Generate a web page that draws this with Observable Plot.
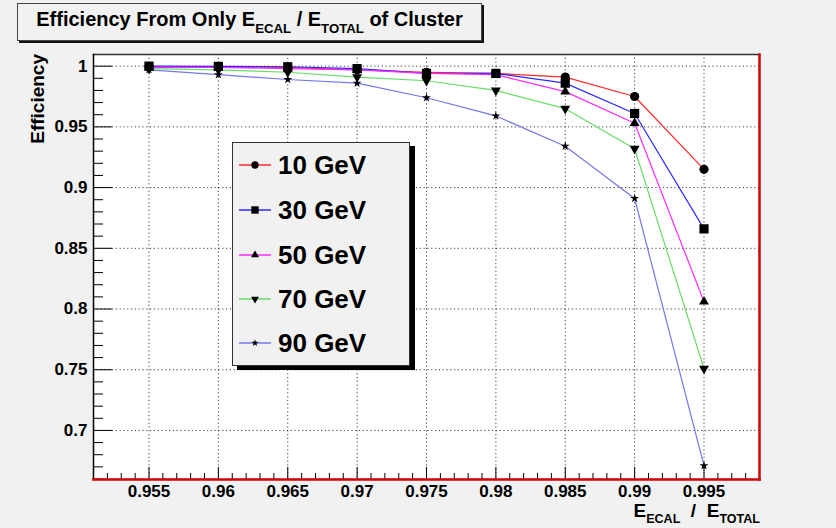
<!DOCTYPE html>
<html>
<head>
<meta charset="utf-8">
<script src="https://cdn.jsdelivr.net/npm/d3@7"></script>
<script src="https://cdn.jsdelivr.net/npm/@observablehq/plot@0.6"></script>
<style>
  html, body { margin: 0; padding: 0; background: #f1f1f1; }
  #chart { position: relative; width: 836px; height: 528px; overflow: hidden;
           font-family: "Liberation Sans", Arial, Helvetica, sans-serif; font-weight: bold; color: #000; }
  #chart svg.plot { position: absolute; left: 0; top: 0; }
  #chart svg.plot g[aria-label$="tick label"] { font-size: 17px; font-weight: bold; }
  .title-box { position: absolute; left: 17px; top: 3px; width: 463px; height: 36px;
               background: #f1f1f1; border: 1px solid #444; box-shadow: 2px 2px 0 #111;
               text-align: center; font-size: 20px; line-height: 30px; white-space: nowrap; }
  .title-box sub, .xtitle sub { font-size: 0.66em; vertical-align: -0.5em; line-height: 0; }
  .xtitle { position: absolute; right: 76px; top: 501px; font-size: 19px; line-height: 19px; white-space: nowrap; }
  .ytitle { position: absolute; left: 38px; top: 54px; font-size: 19px; line-height: 20px; white-space: nowrap;
            transform-origin: 0 0; transform: translate(-10px, 0) rotate(-90deg) translate(-100%, 0); }
  .legend { position: absolute; left: 232px; top: 142px; width: 176px; height: 222px;
            background: #f1f1f1; border: 1px solid #333; box-shadow: 5px 4px 0 #000; }
  .legend .row { position: absolute; left: 0; height: 30px; display: flex; align-items: center; }
  .legend .row span { font-size: 26px; margin-left: 5px; }
</style>
</head>
<body>
<div id="chart"></div>
<script>
// Cut on the ECAL fraction of the cluster energy
const cuts = [0.955, 0.96, 0.965, 0.97, 0.975, 0.98, 0.985, 0.99, 0.995];

// Beam energies and the efficiency after each cut
const energies = ["10 GeV", "30 GeV", "50 GeV", "70 GeV", "90 GeV"];
const eff10 = [0.9995, 0.9993, 0.999, 0.997, 0.995, 0.994, 0.991, 0.975, 0.915];
const eff30 = [1.0, 0.9998, 0.9995, 0.998, 0.994, 0.994, 0.986, 0.961, 0.866];
const eff50 = [0.999, 0.999, 0.998, 0.997, 0.994, 0.993, 0.979, 0.953, 0.806];
const eff70 = [0.998, 0.997, 0.995, 0.991, 0.988, 0.980, 0.965, 0.932, 0.751];
const eff90 = [0.997, 0.993, 0.989, 0.986, 0.974, 0.959, 0.934, 0.891, 0.671];

// Axis ticks
const xMajor = [0.955, 0.96, 0.965, 0.97, 0.975, 0.98, 0.985, 0.99, 0.995];
const yMajor = [0.7, 0.75, 0.8, 0.85, 0.9, 0.95, 1];
const xMinor = d3.range(952, 999).map(i => i / 1000).filter(v => !xMajor.some(m => Math.abs(m - v) < 1e-9));
const yMinor = d3.range(66, 101).map(i => i / 100).filter(v => !yMajor.some(m => Math.abs(m - v) < 1e-9));

// Downward triangle marker
const triangleDown = {
  draw(ctx, size) {
    const y = -Math.sqrt(size / (Math.sqrt(3) * 3));
    ctx.moveTo(0, -y * 2);
    ctx.lineTo(-Math.sqrt(3) * y, y);
    ctx.lineTo(Math.sqrt(3) * y, y);
    ctx.closePath();
  }
};

const series = [
  {name: energies[0], values: eff10, color: "#ff2a2a", symbol: "circle",   r: 4.6},
  {name: energies[1], values: eff30, color: "#2a2aff", symbol: "square",   r: 5.2},
  {name: energies[2], values: eff50, color: "#ff2aff", symbol: "triangle", r: 3.7},
  {name: energies[3], values: eff70, color: "#66dd66", symbol: triangleDown, r: 3.7},
  {name: energies[4], values: eff90, color: "#7676ea", symbol: "star",     r: 2.8}
];

const width = 836, height = 528;
const margin = {top: 54, right: 77, bottom: 49, left: 93};
const frameW = width - margin.left - margin.right;
const frameH = height - margin.top - margin.bottom;

const gridStyle = {stroke: "#000", strokeOpacity: 0.75, strokeWidth: 1, strokeDasharray: "1.2,2.6"};

const marks = [
  Plot.frame({fill: "#fff", stroke: null}),
  Plot.gridX(xMajor, gridStyle),
  Plot.gridY(yMajor, gridStyle),
  // inside ticks along the left and bottom edges
  Plot.ruleY(yMajor, {y: d => d, insetRight: frameW - 19, stroke: "#000"}),
  Plot.ruleY(yMinor, {y: d => d, insetRight: frameW - 10, stroke: "#000"}),
  Plot.ruleX(xMajor, {x: d => d, insetTop: frameH - 12, stroke: "#000"}),
  Plot.ruleX(xMinor, {x: d => d, insetTop: frameH - 6, stroke: "#000"}),
  Plot.axisX(xMajor, {tickSize: 0, tickPadding: 5, fontWeight: "bold", label: null, tickFormat: d => String(d)}),
  Plot.axisY(yMajor, {tickSize: 0, tickPadding: 6, fontWeight: "bold", label: null, tickFormat: d => String(d)})
];

for (const s of series) {
  const rows = cuts.map((c, i) => ({cut: c, eff: s.values[i]}));
  marks.push(Plot.line(rows, {x: "cut", y: "eff", stroke: s.color, strokeWidth: 1.2}));
}
for (const s of series) {
  const rows = cuts.map((c, i) => ({cut: c, eff: s.values[i]}));
  marks.push(Plot.dot(rows, {x: "cut", y: "eff", symbol: s.symbol, r: s.r, fill: "#000", stroke: null}));
}

// frame border: dark on top/left, red on right/bottom
marks.push(
  Plot.frame({anchor: "top", stroke: "#333", strokeWidth: 1.5}),
  Plot.frame({anchor: "left", stroke: "#000", strokeWidth: 1.5}),
  Plot.frame({anchor: "right", stroke: "#d00000", strokeWidth: 2.5}),
  Plot.frame({anchor: "bottom", stroke: "#d00000", strokeWidth: 2.5})
);

const plot = Plot.plot({
  width, height,
  marginTop: margin.top, marginRight: margin.right, marginBottom: margin.bottom, marginLeft: margin.left,
  x: {domain: [0.951, 0.999]},
  y: {domain: [0.6596, 1.0096]},
  style: {background: "transparent", fontFamily: "'Liberation Sans', Arial, Helvetica, sans-serif", fontSize: "17px", color: "#000", overflow: "visible"},
  marks
});
plot.classList.add("plot");

const chart = document.getElementById("chart");
chart.appendChild(plot);

// title pave
const title = document.createElement("div");
title.className = "title-box";
title.innerHTML = "<span>Efficiency From Only E<sub>ECAL</sub>&nbsp;/ E<sub>TOTAL</sub>&nbsp;of Cluster</span>";
chart.appendChild(title);

// axis titles
const xt = document.createElement("div");
xt.className = "xtitle";
xt.innerHTML = "E<sub>ECAL</sub>&nbsp;&nbsp;/&nbsp;&nbsp;E<sub>TOTAL</sub>";
chart.appendChild(xt);

const yt = document.createElement("div");
yt.className = "ytitle";
yt.textContent = "Efficiency";
chart.appendChild(yt);

// legend
const legend = document.createElement("div");
legend.className = "legend";
const rowTops = [22, 67, 112, 156, 200];
series.forEach((s, i) => {
  const row = document.createElement("div");
  row.className = "row";
  row.style.top = (rowTops[i] - 15) + "px";
  const svg = d3.create("svg").attr("width", 40).attr("height", 30);
  svg.append("line").attr("x1", 6).attr("x2", 38).attr("y1", 15).attr("y2", 15)
    .attr("stroke", s.color).attr("stroke-width", 1.5);
  const type = typeof s.symbol === "string"
    ? {circle: d3.symbolCircle, square: d3.symbolSquare, triangle: d3.symbolTriangle, star: d3.symbolStar}[s.symbol]
    : s.symbol;
  const size = Math.PI * (s.r * 0.8) ** 2;
  svg.append("path").attr("d", d3.symbol(type, size)()).attr("transform", "translate(22,15)").attr("fill", "#000");
  row.appendChild(svg.node());
  const label = document.createElement("span");
  label.textContent = s.name;
  row.appendChild(label);
  legend.appendChild(row);
});
chart.appendChild(legend);
</script>
</body>
</html>
